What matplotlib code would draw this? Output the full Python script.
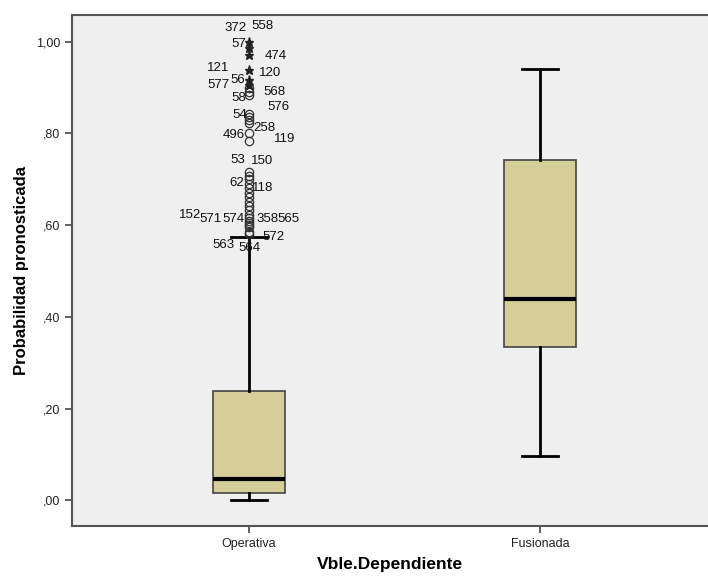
import matplotlib
matplotlib.use("Agg")
import matplotlib.pyplot as plt

plt.rcParams['font.family'] = ['Liberation Sans', 'DejaVu Sans']

categories = ["Operativa", "Fusionada"]
q1 = [0.016, 0.334]
medians = [0.046, 0.440]
q3 = [0.238, 0.743]
whis_lo = [0.001, 0.097]
whis_hi = [0.574, 0.941]

# Operativa outliers (circles) and extremes (stars)
circle_values = [0.898, 0.891, 0.884, 0.843, 0.836, 0.829, 0.822, 0.800, 0.783,
                 0.716, 0.708, 0.700, 0.690, 0.681, 0.671, 0.661, 0.651, 0.641,
                 0.632, 0.623, 0.615, 0.610, 0.605, 0.600, 0.595, 0.586, 0.580]
star_values = [1.000, 0.985, 0.971, 0.939, 0.916, 0.906]

# case labels and their placement (x offset in px from the box centre, y value)
case_labels = ["372", "558", "57", "474", "121", "120", "577", "56", "568", "58",
               "576", "54", "258", "496", "119", "53", "150", "62", "118", "152",
               "571", "574", "358", "565", "572", "563", "564"]
label_dx_px = [-13, 13, -10, 27, -31, 21, -30, -11, 25, -10,
               29, -9, 15, -15, 36, -11, 13, -12, 14, -59,
               -38, -16, 19, 39, 24, -25, 0]
label_y_val = [1.029, 1.034, 0.995, 0.968, 0.942, 0.931, 0.905, 0.916, 0.890, 0.877,
               0.857, 0.840, 0.812, 0.796, 0.788, 0.742, 0.740, 0.692, 0.681, 0.622,
               0.613, 0.613, 0.613, 0.613, 0.574, 0.557, 0.550]

fig = plt.figure(figsize=(7.08, 5.77), dpi=100)
ax = fig.add_axes([72 / 708, 1 - 526 / 577, 636 / 708, 511 / 577])
ax.set_facecolor("#EFEFEF")

stats = []
for i, c in enumerate(categories):
    stats.append(dict(label=c, med=medians[i], q1=q1[i], q3=q3[i],
                      whislo=whis_lo[i], whishi=whis_hi[i], fliers=[]))

positions = [1, 2]
ax.bxp(stats, positions=positions, widths=0.25, showfliers=False, patch_artist=True,
       boxprops=dict(facecolor="#D4CF98", edgecolor="#444444", linewidth=1.2),
       medianprops=dict(color="black", linewidth=3),
       whiskerprops=dict(color="black", linewidth=2),
       capprops=dict(color="black", linewidth=2),
       capwidths=0.125)

ax.plot([positions[0]] * len(circle_values), circle_values, linestyle="none",
        marker="o", markersize=6, markerfacecolor="none", markeredgecolor="#333333",
        markeredgewidth=0.9, zorder=4)
ax.plot([positions[0]] * len(star_values), star_values, linestyle="none",
        marker="*", markersize=6.5, color="#222222", zorder=4)

px_per_unit = 291.0
for lab, dx, yv in zip(case_labels, label_dx_px, label_y_val):
    ax.text(positions[0] + dx / px_per_unit, yv, lab, ha="center", va="center",
            fontsize=9.5, color="#111111", zorder=5)

ax.set_xlim(0.392, 2.577)
ax.set_ylim(-0.0556, 1.058)
ax.set_yticks([0.0, 0.2, 0.4, 0.6, 0.8, 1.0])
ax.set_yticklabels([",00", ",20", ",40", ",60", ",80", "1,00"], fontsize=9, color="#222222")
ax.set_xticks(positions)
ax.set_xticklabels(categories, fontsize=9, color="#222222")
ax.tick_params(axis="both", direction="out", length=5, width=1.2, color="#444444")

for s in ["left", "bottom", "top"]:
    ax.spines[s].set_color("#555555")
    ax.spines[s].set_linewidth(1.5)
ax.spines["right"].set_visible(False)

ax.set_ylabel("Probabilidad pronosticada", fontsize=12, fontweight="bold", labelpad=5)
ax.set_xlabel("Vble.Dependiente", fontsize=12.5, fontweight="bold", labelpad=5)

fig.savefig("out.png", dpi=100, facecolor="white")
